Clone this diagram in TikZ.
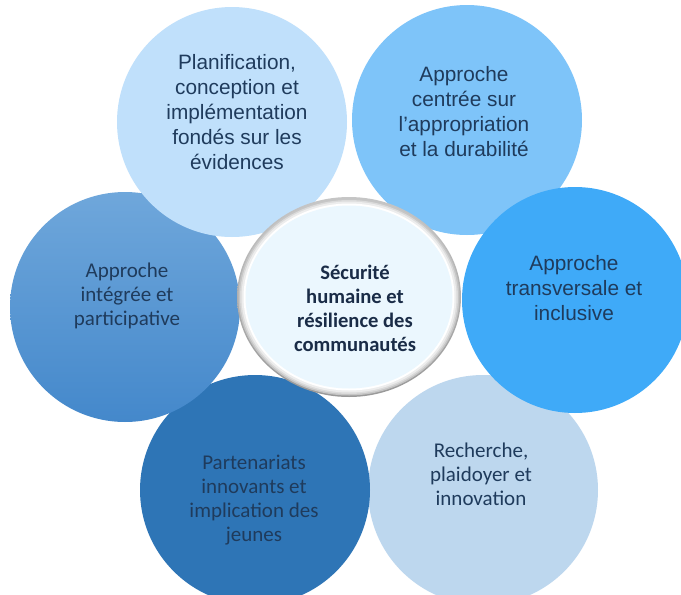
\documentclass[tikz,border=0pt]{standalone}
\usepackage{fontspec}
\setmainfont{Liberation Sans}
\newfontfamily\calibri{Carlito}
\usepackage{tikz}
\usetikzlibrary{shapes.geometric}
\definecolor{navy}{HTML}{1F3B5C}
\definecolor{coreText}{HTML}{1A2C47}
\definecolor{planBlue}{HTML}{C0E0FB}
\definecolor{ownerBlue}{HTML}{7EC4F9}
\definecolor{crossBlue}{HTML}{3FAAF8}
\definecolor{researchBlue}{HTML}{BDD7EE}
\definecolor{partnerBlue}{HTML}{2E75B6}
\definecolor{integTop}{HTML}{6FA7DB}
\definecolor{integBot}{HTML}{4488CB}
\definecolor{coreFill}{HTML}{EBF7FE}
\tikzset{
  bubble/.style={circle, minimum size=230pt, inner sep=0pt, outer sep=0pt},
  arialLbl/.style={text=navy, align=center, font=\fontsize{20.8}{25}\selectfont},
  calibLbl/.style={text=navy, align=center, font=\calibri\fontsize{21}{24}\selectfont},
  coreLbl/.style={text=coreText, align=center, font=\calibri\bfseries\fontsize{20.6}{24}\selectfont},
  ring/.style={ellipse, inner sep=0pt, outer sep=0pt},
}

\begin{document}
\begin{tikzpicture}[x=1pt, y=-1pt]
  \useasboundingbox (0,0) rectangle (681,595);
  \fill[white] (0,0) rectangle (681,595);
  \clip (0,0) rectangle (681,595);

  % outer petals, back to front
  \node[bubble, fill=researchBlue] (research) at (483,490) {};
  \node[bubble, fill=partnerBlue]  (partner)  at (255,490) {};
  \node[bubble, top color=integTop, bottom color=integBot] (integ) at (125,307) {};
  \node[bubble, fill=planBlue]     (plan)     at (232,122) {};
  \node[bubble, fill=ownerBlue]    (owner)    at (467,120) {};
  \node[bubble, fill=crossBlue, minimum size=226pt] (cross) at (575,300) {};

  % central disc with bevelled rim
  \node[ring, minimum width=224pt, minimum height=200pt, top color=gray!45, bottom color=gray!80] (core) at (349,297) {};
  \node[ring, minimum width=221pt, minimum height=197pt, fill=gray!45] (rimA) at (core.center) {};
  \node[ring, minimum width=218pt, minimum height=194pt, fill=gray!28] (rimB) at (core.center) {};
  \node[ring, minimum width=215pt, minimum height=191pt, fill=gray!14] (rimC) at (core.center) {};
  \node[ring, minimum width=211pt, minimum height=187pt, fill=white] (rimD) at (core.center) {};
  \node[ring, minimum width=207pt, minimum height=183pt, fill=coreFill] (coreIn) at (core.center) {};

  % labels
  \node[arialLbl] (planTxt)     at (237,112) {Planification,\\conception et\\implémentation\\fondés sur les\\évidences};
  \node[arialLbl] (ownerTxt)    at (464,112) {Approche\\centrée sur\\l’appropriation\\et la durabilité};
  \node[arialLbl] (crossTxt)    at (574,288) {Approche\\transversale et\\inclusive};
  \node[calibLbl] (integTxt)    at (127,296) {Approche\\intégrée et\\participative};
  \node[calibLbl] (partnerTxt)  at (254,500) {Partenariats\\innovants et\\implication des\\jeunes};
  \node[calibLbl] (researchTxt) at (481,474) {Recherche,\\plaidoyer et\\innovation};
  \node[coreLbl]  (coreTxt)     at (355,308) {Sécurité\\humaine et\\résilience des\\communautés};
\end{tikzpicture}
\end{document}
